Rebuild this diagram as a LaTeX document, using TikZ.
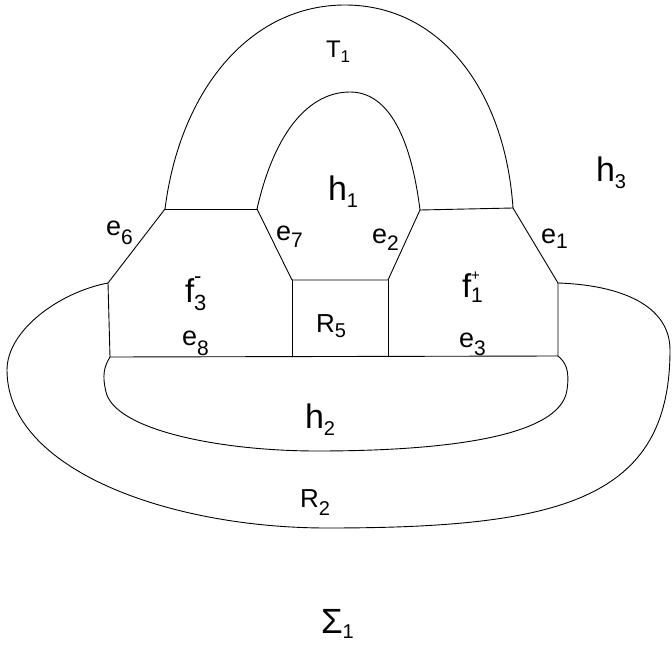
\documentclass[tikz,border=0pt]{standalone}
\usepackage{fontspec}
\setmainfont{Liberation Sans}
\newcommand\lbl[5]{{\fontsize{#1}{#1}\selectfont #2}\raisebox{-#5pt}{\fontsize{#3}{#3}\selectfont #4}}
\begin{document}
\begin{tikzpicture}[x=1pt,y=-1pt,
  edge/.style={line width=0.9pt, line join=round, line cap=round},
  lab/.style={anchor=base west, inner sep=0pt, outer sep=0pt}]
\useasboundingbox (0,0) rectangle (672,650);
% vertices
\coordinate (A) at (165,209);
\coordinate (B) at (257,209);
\coordinate (C) at (420,210);
\coordinate (D) at (513,208);
\coordinate (E) at (108,283);
\coordinate (F) at (292,280);
\coordinate (G) at (388,280);
\coordinate (H) at (558,283);
\coordinate (I) at (110,357);
\coordinate (J) at (292,357);
\coordinate (K) at (388,357);
\coordinate (L) at (558,356);
% arches
\draw[edge] (A) .. controls (180,90) and (250,5) .. (345,5) .. controls (440,5) and (505,90) .. (D);
\draw[edge] (B) .. controls (275,130) and (310,92) .. (350,92) .. controls (385,92) and (410,130) .. (C);
% straight edges
\draw[edge] (A) -- (B);
\draw[edge] (C) -- (D);
\draw[edge] (A) -- (E) -- (I) -- (L) -- (H) -- (D);
\draw[edge] (B) -- (F) -- (G) -- (C);
\draw[edge] (F) -- (J);
\draw[edge] (G) -- (K);
% outer loop
\draw[edge] (E) .. controls (60,292) and (7,330) .. (7,370)
  .. controls (7,470) and (170,528) .. (327,528)
  .. controls (560,528) and (670,500) .. (670,350)
  .. controls (670,305) and (620,285) .. (H);
% inner loop
\draw[edge] (I) .. controls (104,367) and (102,375) .. (106,392)
  .. controls (115,430) and (220,451) .. (317,451)
  .. controls (430,451) and (560,440) .. (567,390)
  .. controls (570,369) and (565,362) .. (L);
% labels
\node[lab] (t1) at (326,58) {\lbl{24}{T}{17}{1}{5}};
\node[lab] (h1) at (328,200) {\lbl{34}{h}{20}{1}{8}};
\node[lab] (h3) at (596,182) {\lbl{34}{h}{20}{3}{6}};
\node[lab] (h2) at (305,428) {\lbl{34}{h}{20}{2}{7}};
\node[lab] (e6) at (106,235) {\lbl{27}{e}{21}{6}{9}};
\node[lab] (e7) at (276,240) {\lbl{27}{e}{21}{7}{7}};
\node[lab] (e8) at (182,345) {\lbl{27}{e}{21}{8}{10}};
\node[lab] (e2) at (372,243) {\lbl{27}{e}{21}{2}{7}};
\node[lab] (e1) at (541,243) {\lbl{27}{e}{21}{1}{5}};
\node[lab] (e3) at (459,347) {\lbl{27}{e}{21}{3}{8}};
\node[lab] (r5) at (316,332) {\lbl{26}{R}{20}{5}{5}};
\node[lab] (r2) at (300,507) {\lbl{26}{R}{20}{2}{8}};
\node[lab] (f3) at (185,302) {{\fontsize{33}{33}\selectfont f}\rlap{\raisebox{19pt}{\fontsize{22}{22}\selectfont -}}\raisebox{-8pt}{\fontsize{22}{22}\selectfont 3}};
\node[lab] (f1) at (462,297) {{\fontsize{33}{33}\selectfont f}\rlap{\raisebox{17pt}{\fontsize{15}{15}\selectfont +}}\raisebox{-5pt}{\fontsize{21}{21}\selectfont 1}};
\node[lab] (s1) at (321,633) {\lbl{35}{Σ}{20}{1}{5}};
\end{tikzpicture}
\end{document}
